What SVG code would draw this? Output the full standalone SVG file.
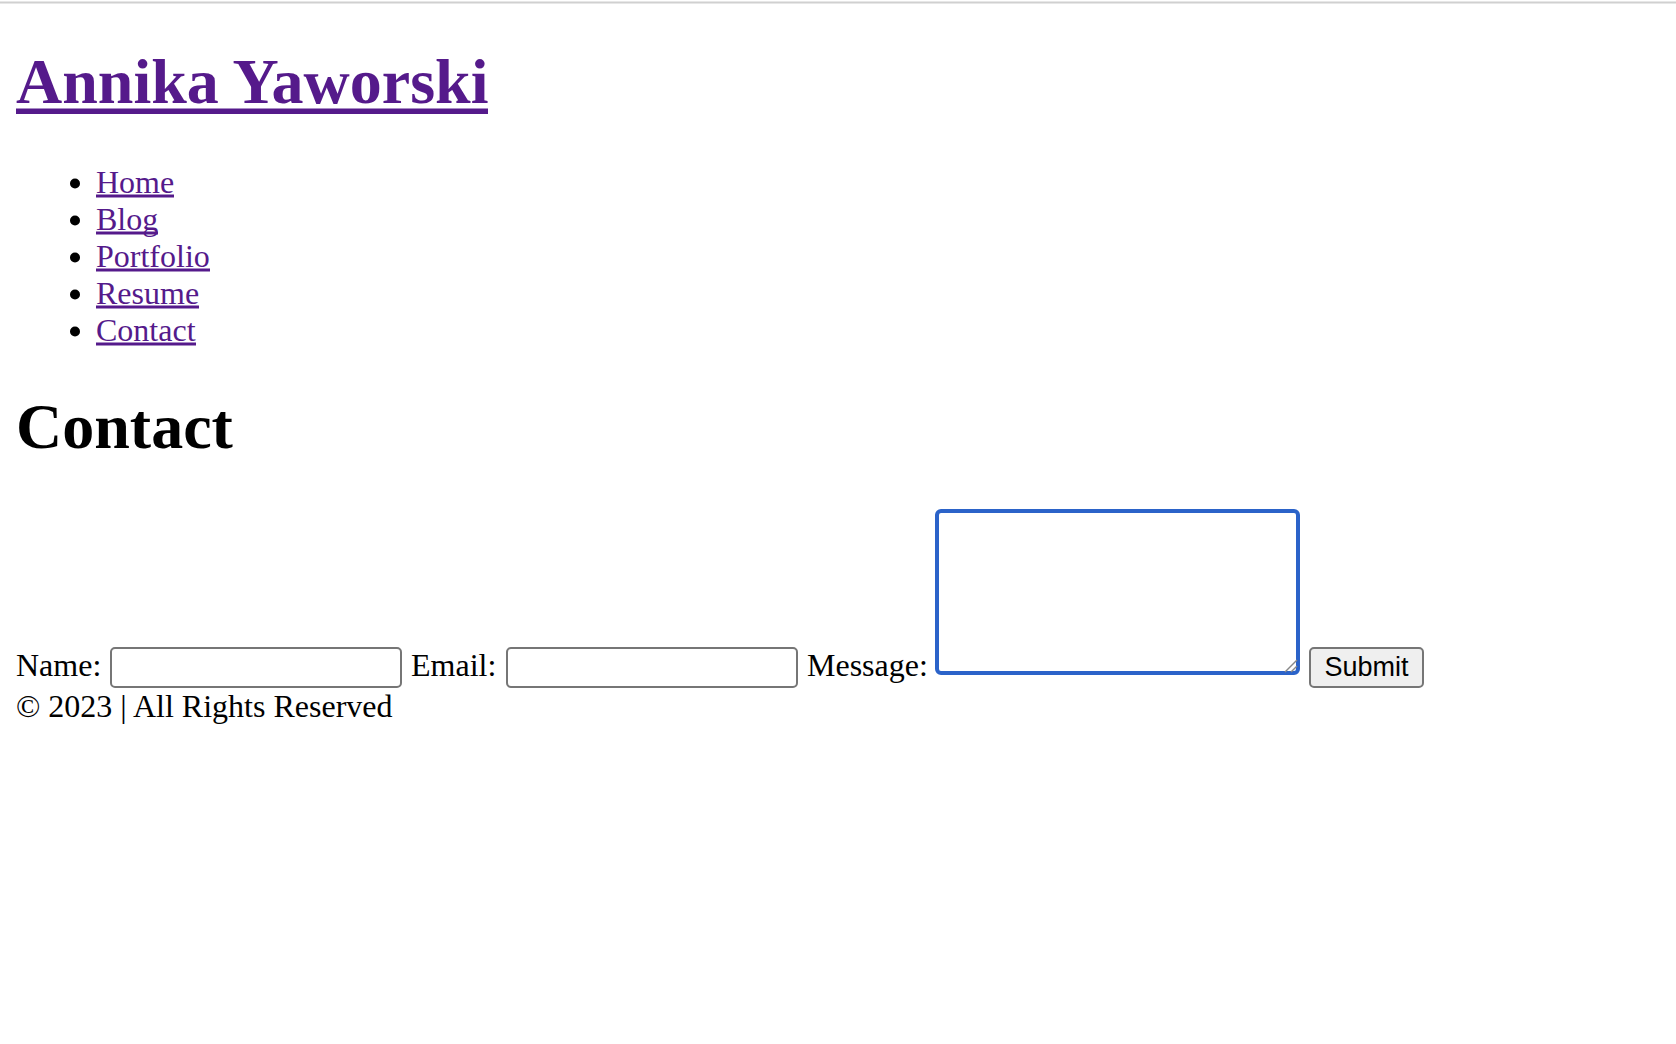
<svg xmlns="http://www.w3.org/2000/svg" width="1676" height="1044" viewBox="0 0 1676 1044">
<style>
.serif{font-family:"Liberation Serif","Times New Roman",serif;}
.body{font-size:32px;fill:#000;}
.h{font-size:64px;font-weight:bold;}
.link{fill:#551A8B;}
.ul{fill:#551A8B;}
.box{fill:#fff;stroke:#767676;stroke-width:2;}
</style>
<rect x="0" y="0" width="1676" height="1044" fill="#fff"/>
<rect x="0" y="1.5" width="1676" height="2" fill="#d0d0d0"/>
<g id="title">
<text class="serif h link" x="16" y="103">Annika Yaworski</text>
<rect class="ul" x="16" y="108.5" width="472" height="5.5"/>
</g>
<g id="nav">
<circle cx="75" cy="183.5" r="5"/>
<circle cx="75" cy="220.5" r="5"/>
<circle cx="75" cy="257.5" r="5"/>
<circle cx="75" cy="294.5" r="5"/>
<circle cx="75" cy="331.5" r="5"/>
<text class="serif body link" x="96" y="193">Home</text>
<rect class="ul" x="96" y="194.5" width="78" height="3"/>
<text class="serif body link" x="96" y="230">Blog</text>
<rect class="ul" x="96" y="231.5" width="62" height="3"/>
<text class="serif body link" x="96" y="267">Portfolio</text>
<rect class="ul" x="96" y="268.5" width="114" height="3"/>
<text class="serif body link" x="96" y="304">Resume</text>
<rect class="ul" x="96" y="305.5" width="103" height="3"/>
<text class="serif body link" x="96" y="341">Contact</text>
<rect class="ul" x="96" y="342.5" width="100" height="3"/>
</g>
<g id="heading">
<text class="serif h" x="16" y="448" fill="#000">Contact</text>
</g>
<g id="form">
<text class="serif body" x="16" y="676">Name:</text>
<rect class="box" x="111" y="648" width="290" height="39" rx="4"/>
<text class="serif body" x="411" y="676">Email:</text>
<rect class="box" x="507" y="648" width="290" height="39" rx="4"/>
<text class="serif body" x="807" y="676">Message:</text>
<rect x="937" y="511" width="361" height="162" rx="4" fill="#fff" stroke="#2b63c9" stroke-width="4"/>
<line x1="1285" y1="672" x2="1297" y2="660" stroke="#888" stroke-width="1.5"/>
<line x1="1291" y1="672" x2="1297" y2="666" stroke="#888" stroke-width="1.5"/>
<rect x="1310" y="648" width="113" height="39" rx="4" fill="#efefef" stroke="#767676" stroke-width="2"/>
<text x="1366.5" y="675.5" text-anchor="middle" font-family="Liberation Sans, Arial, sans-serif" font-size="27" fill="#000">Submit</text>
</g>
<g id="footer">
<text class="serif body" x="16" y="717">© 2023 | All Rights Reserved</text>
</g>
</svg>
